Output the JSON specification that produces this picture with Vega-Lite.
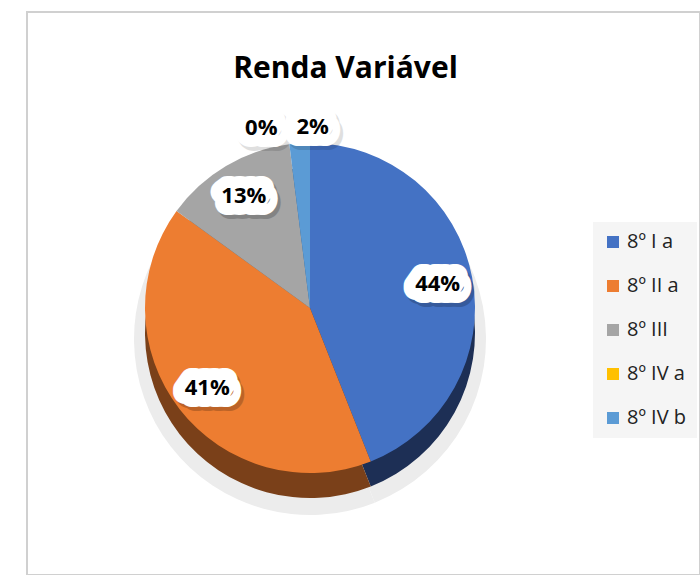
{
  "$schema": "https://vega.github.io/schema/vega-lite/v6.json",
  "width": 673,
  "height": 563,
  "autosize": {"type": "none"},
  "padding": {"left": 27, "top": 12, "right": 0, "bottom": 0},
  "background": "white",
  "view": {"stroke": "#d0d0d0", "strokeWidth": 2},
  "config": {"view": {"stroke": "#d0d0d0", "strokeWidth": 2}, "font": "Open Sans"},
  "title": {"text": "Renda Variável", "font": "Open Sans", "fontSize": 30, "fontWeight": "bold", "color": "#000000", "anchor": "middle", "frame": "group", "offset": -72, "dx": -18},
  "data": {"values": [
    {"turma": "8º I a", "pct": 0.44},
    {"turma": "8º II a", "pct": 0.41},
    {"turma": "8º III", "pct": 0.13},
    {"turma": "8º IV a", "pct": 0.0},
    {"turma": "8º IV b", "pct": 0.02}
  ]},
  "encoding": {
    "theta": {"field": "pct", "type": "quantitative", "stack": true},
    "order": {"field": "turma", "type": "nominal", "sort": "ascending"}
  },
  "layer": [
    {
      "mark": {"type": "arc", "x": 283, "y": 327, "outerRadius": 176, "color": "#ececec"},
      "encoding": {"detail": {"field": "turma"}}
    },
    {
      "mark": {"type": "arc", "x": 283, "y": 321, "outerRadius": 165},
      "encoding": {"color": {"field": "turma", "type": "nominal", "scale": {"domain": ["8º I a", "8º II a", "8º III", "8º IV a", "8º IV b"], "range": ["#1d2f55", "#7a4019", "#5e5e5e", "#8f6c00", "#335a80"]}, "legend": null}}
    },
    {
      "layer": [
        {
          "mark": {"type": "arc", "x": 283, "y": 296, "outerRadius": 165},
          "encoding": {"color": {"field": "turma", "type": "nominal", "scale": {"domain": ["8º I a", "8º II a", "8º III", "8º IV a", "8º IV b"], "range": ["#4472C4", "#ED7D31", "#A5A5A5", "#FFC000", "#5B9BD5"]},
            "legend": {"orient": "none", "legendX": 566, "legendY": 210, "title": null, "symbolType": "square", "symbolSize": 144, "symbolStrokeWidth": 0, "labelFont": "Open Sans", "labelFontSize": 20, "labelColor": "#222222", "rowPadding": 24, "fillColor": "#f5f5f5", "padding": 10, "labelOffset": 4}}}
        }
      ]
    },
    {
      "mark": {"type": "text", "x": 283, "y": 296, "radius": 130, "dx": 3, "dy": 4, "font": "Open Sans", "fontSize": 22, "fontWeight": "bold", "fill": "#000000", "stroke": "#000000", "strokeWidth": 24, "strokeJoin": "round", "opacity": 0.2},
      "encoding": {"detail": {"field": "turma"}, "text": {"condition": {"test": "datum.pct >= 0.05", "field": "pct", "type": "quantitative", "format": ".0%"}, "value": ""}}
    },
    {
      "mark": {"type": "text", "x": 283, "y": 296, "radius": 130, "font": "Open Sans", "fontSize": 22, "fontWeight": "bold", "fill": "#ffffff", "stroke": "#ffffff", "strokeWidth": 24, "strokeJoin": "round"},
      "encoding": {"detail": {"field": "turma"}, "text": {"condition": {"test": "datum.pct >= 0.05", "field": "pct", "type": "quantitative", "format": ".0%"}, "value": ""}}
    },
    {
      "mark": {"type": "text", "x": 283, "y": 296, "radius": 130, "font": "Open Sans", "fontSize": 22, "fontWeight": "bold", "fill": "#000000"},
      "encoding": {"detail": {"field": "turma"}, "text": {"condition": {"test": "datum.pct >= 0.05", "field": "pct", "type": "quantitative", "format": ".0%"}, "value": ""}}
    },
    {
      "mark": {"type": "text", "x": 283, "y": 296, "radius": 181, "dx": -23, "dy": 4, "font": "Open Sans", "fontSize": 22, "fontWeight": "bold", "fill": "#000000", "stroke": "#000000", "strokeWidth": 24, "strokeJoin": "round", "opacity": 0.12},
      "encoding": {"detail": {"field": "turma"}, "text": {"condition": {"test": "datum.turma === '8º IV a'", "field": "pct", "type": "quantitative", "format": ".0%"}, "value": ""}}
    },
    {
      "mark": {"type": "text", "x": 283, "y": 296, "radius": 181, "dx": -26, "font": "Open Sans", "fontSize": 22, "fontWeight": "bold", "fill": "#ffffff", "stroke": "#ffffff", "strokeWidth": 24, "strokeJoin": "round"},
      "encoding": {"detail": {"field": "turma"}, "text": {"condition": {"test": "datum.turma === '8º IV a'", "field": "pct", "type": "quantitative", "format": ".0%"}, "value": ""}}
    },
    {
      "mark": {"type": "text", "x": 283, "y": 296, "radius": 181, "dx": -26, "font": "Open Sans", "fontSize": 22, "fontWeight": "bold", "fill": "#000000"},
      "encoding": {"detail": {"field": "turma"}, "text": {"condition": {"test": "datum.turma === '8º IV a'", "field": "pct", "type": "quantitative", "format": ".0%"}, "value": ""}}
    },
    {
      "mark": {"type": "text", "x": 283, "y": 296, "radius": 181, "dx": 17, "dy": 4, "font": "Open Sans", "fontSize": 22, "fontWeight": "bold", "fill": "#000000", "stroke": "#000000", "strokeWidth": 24, "strokeJoin": "round", "opacity": 0.12},
      "encoding": {"detail": {"field": "turma"}, "text": {"condition": {"test": "datum.turma === '8º IV b'", "field": "pct", "type": "quantitative", "format": ".0%"}, "value": ""}}
    },
    {
      "mark": {"type": "text", "x": 283, "y": 296, "radius": 181, "dx": 14, "font": "Open Sans", "fontSize": 22, "fontWeight": "bold", "fill": "#ffffff", "stroke": "#ffffff", "strokeWidth": 24, "strokeJoin": "round"},
      "encoding": {"detail": {"field": "turma"}, "text": {"condition": {"test": "datum.turma === '8º IV b'", "field": "pct", "type": "quantitative", "format": ".0%"}, "value": ""}}
    },
    {
      "mark": {"type": "text", "x": 283, "y": 296, "radius": 181, "dx": 14, "font": "Open Sans", "fontSize": 22, "fontWeight": "bold", "fill": "#000000"},
      "encoding": {"detail": {"field": "turma"}, "text": {"condition": {"test": "datum.turma === '8º IV b'", "field": "pct", "type": "quantitative", "format": ".0%"}, "value": ""}}
    }
  ],
  "resolve": {"scale": {"color": "independent"}, "legend": {"color": "independent"}}
}
